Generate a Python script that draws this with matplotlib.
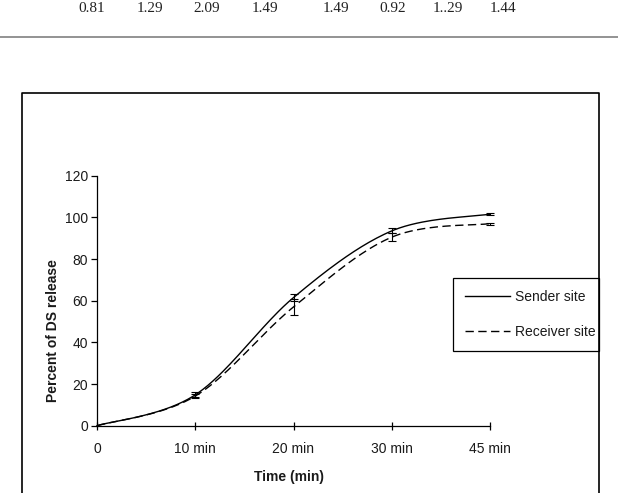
import numpy as np
import matplotlib
matplotlib.use("Agg")
import matplotlib.pyplot as plt
from matplotlib.lines import Line2D

# ---- data ----
time_labels = ["0", "10 min", "20 min", "30 min", "45 min"]
sender = [0.0, 14.8, 61.5, 93.5, 101.5]
receiver = [0.0, 14.2, 57.0, 90.5, 97.0]
sender_err = [0.0, 1.2, 1.5, 1.2, 0.4]
receiver_err = [0.0, 1.0, 3.8, 2.0, 0.5]
table_values = ["0.81", "1.29", "2.09", "1.49", "1.49", "0.92", "1..29", "1.44"]
table_x_px = [92, 150, 207, 265, 336, 393, 448, 503]

W, H = 618, 493
plt.rcParams['font.family'] = ['Liberation Sans', 'DejaVu Sans']

fig = plt.figure(figsize=(W / 100, H / 100), dpi=100)
fig.patch.set_facecolor('white')

def fx(px):
    return px / W

def fy(py):
    return 1 - py / H

# top table row and rule
for v, xp in zip(table_values, table_x_px):
    fig.text(fx(xp), fy(8), v, ha='center', va='center', fontsize=11,
             family='Liberation Serif', color='#222222')
fig.add_artist(Line2D([0, 1], [fy(36.6), fy(36.6)], transform=fig.transFigure,
                      color='#8a8a8a', lw=1.3))

# chart border (extends past bottom of image)
fig.add_artist(Line2D([fx(21.7), fx(21.7), fx(599), fx(599)],
                      [fy(520), fy(93), fy(93), fy(520)],
                      transform=fig.transFigure, color='black', lw=1.2))


def excel_smooth(xs, ys, n=40):
    xs = np.asarray(xs, float)
    ys = np.asarray(ys, float)
    P = np.column_stack([xs, ys])
    out = [P[0]]
    m = len(P)
    for i in range(m - 1):
        p0 = P[i - 1] if i > 0 else P[i]
        p1 = P[i]
        p2 = P[i + 1]
        p3 = P[i + 2] if i + 2 < m else P[i + 1]
        c1 = p1 + (p2 - p0) / 6
        c2 = p2 - (p3 - p1) / 6
        t = np.linspace(0, 1, n)[1:, None]
        seg = ((1 - t) ** 3) * p1 + 3 * ((1 - t) ** 2) * t * c1 + 3 * (1 - t) * t ** 2 * c2 + t ** 3 * p2
        out.extend(seg)
    out = np.array(out)
    return out[:, 0], out[:, 1]


ax = fig.add_axes([fx(97), fy(425.7), fx(490) - fx(97), fy(175.7) - fy(425.7)])
x = np.arange(len(time_labels))

sx, sy = excel_smooth(x, sender)
rx, ry = excel_smooth(x, receiver)
ax.plot(sx, sy, color='black', lw=1.0, label='Sender site', clip_on=False)
ax.plot(rx, ry, color='black', lw=1.0, ls=(0, (6, 3.2)), label='Receiver site', clip_on=False)
ax.errorbar(x[1:], sender[1:], yerr=sender_err[1:], fmt='none', ecolor='black',
            elinewidth=0.8, capsize=2.8, capthick=0.8, clip_on=False)
ax.errorbar(x[1:], receiver[1:], yerr=receiver_err[1:], fmt='none', ecolor='black',
            elinewidth=0.8, capsize=2.8, capthick=0.8, clip_on=False)

ax.set_xlim(0, 4)
ax.set_ylim(0, 120)
ax.set_xticks(x)
ax.set_xticklabels(time_labels)
ax.set_yticks([0, 20, 40, 60, 80, 100, 120])
for s in ['top', 'right']:
    ax.spines[s].set_visible(False)
for s in ['left', 'bottom']:
    ax.spines[s].set_linewidth(0.9)
ax.tick_params(axis='x', direction='inout', length=6, width=0.9, pad=8.5, labelsize=10,
               labelcolor='#1a1a1a')
ax.tick_params(axis='y', direction='out', length=4, width=0.9, pad=2.5, labelsize=10,
               labelcolor='#1a1a1a')
ax.set_facecolor('none')

fig.text(fx(289.5), fy(477), 'Time (min)', ha='center', va='center',
         fontsize=10, fontweight='bold', color='#1a1a1a')
fig.text(fx(53.5), fy(331), 'Percent of DS release', ha='center', va='center',
         rotation=90, fontsize=10, fontweight='bold', color='#1a1a1a')

leg = ax.legend(loc='center left', mode='expand',
                bbox_to_anchor=(fx(452.7), fy(350), fx(599) - fx(452.7), fy(279) - fy(350)),
                bbox_transform=fig.transFigure, frameon=True, fancybox=False,
                edgecolor='black', framealpha=1, fontsize=10, handlelength=3.3,
                handletextpad=0.3, labelspacing=1.5, borderpad=0.85, borderaxespad=0)
leg.get_frame().set_linewidth(0.9)
for t in leg.get_texts():
    t.set_color('#1a1a1a')

fig.savefig('out.png', dpi=100, facecolor='white')
